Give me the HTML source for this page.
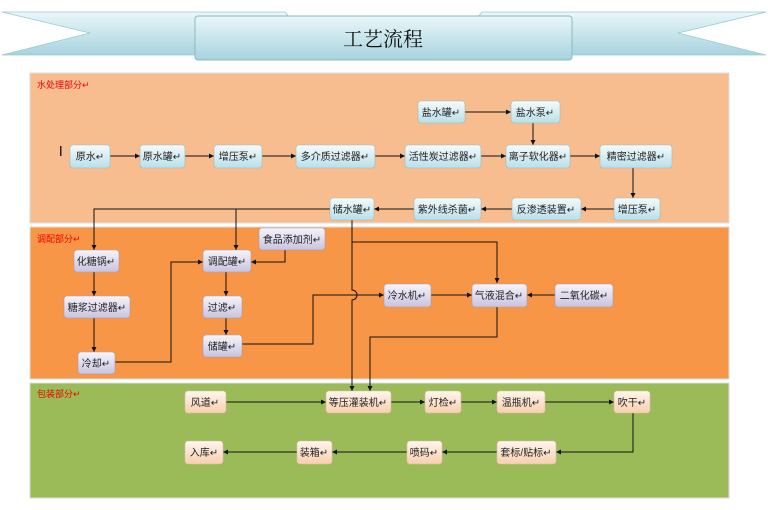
<!DOCTYPE html>
<html><head><meta charset="utf-8"><style>
body{margin:0;background:#fff;width:768px;height:505px;overflow:hidden}
text{font-family:"Liberation Sans","Noto Sans CJK SC",sans-serif;font-size:10px;fill:#222}
</style></head><body>
<svg width="768" height="505" viewBox="0 0 768 505" xmlns="http://www.w3.org/2000/svg">
<defs>
<linearGradient id="gc" x1="0" y1="0" x2="0" y2="1"><stop offset="0" stop-color="#f4fbfd"/><stop offset="1" stop-color="#b9dfe8"/></linearGradient>
<linearGradient id="gt" x1="0" y1="0" x2="0" y2="1"><stop offset="0" stop-color="#eaf7fa"/><stop offset="1" stop-color="#a7d3de"/></linearGradient>
<linearGradient id="gl" x1="0" y1="0" x2="0" y2="1"><stop offset="0" stop-color="#f6f4fb"/><stop offset="1" stop-color="#c9c3e0"/></linearGradient>
<linearGradient id="gp" x1="0" y1="0" x2="0" y2="1"><stop offset="0" stop-color="#fff6ee"/><stop offset="1" stop-color="#f7cfae"/></linearGradient>
<marker id="a" markerWidth="6" markerHeight="6" refX="5" refY="3" orient="auto" markerUnits="userSpaceOnUse"><path d="M0,0.5 L5,3 L0,5.5z" fill="#111"/></marker>
</defs>
<!-- banner -->
<path d="M2,12 L285,12 L290,18 L195,22 L195,55 L2,55 L90,33 Z" fill="url(#gt)" stroke="#9cc" stroke-width="0.8"/>
<path d="M766,12 L482,12 L477,18 L572,22 L572,55 L766,55 L678,33 Z" fill="url(#gt)" stroke="#9cc" stroke-width="0.8"/>
<rect x="195" y="16" width="377" height="44" rx="3" fill="url(#gt)" stroke="#8bb" stroke-width="1"/>
<text x="383" y="46" text-anchor="middle" style="font-size:20px;font-family:'Noto Serif CJK SC',serif;fill:#111">工艺流程</text>
<!-- panels -->
<rect x="30" y="73" width="699" height="150" fill="#f8bd8f" stroke="#ddd"/>
<rect x="30" y="227" width="699" height="152" fill="#f79646" stroke="#ddd"/>
<rect x="30" y="383" width="699" height="115" fill="#9bbb59" stroke="#ddd"/>
<text x="37" y="88" style="fill:#e00;font-size:9px">水处理部分↵</text>
<text x="37" y="242" style="fill:#e00;font-size:9px">调配部分↵</text>
<text x="37" y="397" style="fill:#e00;font-size:9px">包装部分↵</text>
<rect x="60" y="146" width="1.5" height="10" fill="#222"/>
<g stroke="#111" stroke-width="1" fill="none">
<!-- top -->
<path d="M465,112H511" marker-end="url(#a)"/>
<path d="M533,123V145" marker-end="url(#a)"/>
<path d="M110,156H140" marker-end="url(#a)"/>
<path d="M185,156H214" marker-end="url(#a)"/>
<path d="M262,156H296" marker-end="url(#a)"/>
<path d="M375,156H405" marker-end="url(#a)"/>
<path d="M481,156H506" marker-end="url(#a)"/>
<path d="M570,156H600" marker-end="url(#a)"/>
<path d="M633,168V198" marker-end="url(#a)"/>
<path d="M614,209H581" marker-end="url(#a)"/>
<path d="M512,209H481" marker-end="url(#a)"/>
<path d="M414,209H374" marker-end="url(#a)"/>
<!-- mid -->
<path d="M330,209H94V250" marker-end="url(#a)"/>
<path d="M236,209V250" marker-end="url(#a)"/>
<path d="M352,220V290 A5,5 0 0 1 352,300 V391" marker-end="url(#a)"/>
<path d="M352,242H497V283" marker-end="url(#a)"/>
<path d="M285,250V262H251" marker-end="url(#a)"/>
<path d="M94,272V296" marker-end="url(#a)"/>
<path d="M94,318V352" marker-end="url(#a)"/>
<path d="M115,362H171V262H203" marker-end="url(#a)"/>
<path d="M226,272V296" marker-end="url(#a)"/>
<path d="M226,318V335" marker-end="url(#a)"/>
<path d="M242,344H313V295H384" marker-end="url(#a)"/>
<path d="M431,295H472" marker-end="url(#a)"/>
<path d="M555,295H527" marker-end="url(#a)"/>
<path d="M497,307V337H370V391" marker-end="url(#a)"/>
<!-- bottom -->
<path d="M226,402H326" marker-end="url(#a)"/>
<path d="M391,402H425" marker-end="url(#a)"/>
<path d="M461,402H497" marker-end="url(#a)"/>
<path d="M545,402H614" marker-end="url(#a)"/>
<path d="M633,413V452H556" marker-end="url(#a)"/>
<path d="M497,452H442" marker-end="url(#a)"/>
<path d="M407,452H332" marker-end="url(#a)"/>
<path d="M297,452H223" marker-end="url(#a)"/>
</g>
<g stroke="#9bb" stroke-width="0.6">
<rect x="418" y="101" width="47" height="22" rx="3" fill="url(#gc)"/>
<rect x="511" y="101" width="49" height="22" rx="3" fill="url(#gc)"/>
<rect x="70" y="145" width="40" height="23" rx="3" fill="url(#gc)"/>
<rect x="140" y="145" width="45" height="23" rx="3" fill="url(#gc)"/>
<rect x="214" y="145" width="48" height="23" rx="3" fill="url(#gc)"/>
<rect x="296" y="145" width="79" height="23" rx="3" fill="url(#gc)"/>
<rect x="405" y="145" width="76" height="23" rx="3" fill="url(#gc)"/>
<rect x="506" y="145" width="64" height="23" rx="3" fill="url(#gc)"/>
<rect x="600" y="145" width="72" height="23" rx="3" fill="url(#gc)"/>
<rect x="330" y="198" width="44" height="22" rx="3" fill="url(#gc)"/>
<rect x="414" y="198" width="67" height="22" rx="3" fill="url(#gc)"/>
<rect x="512" y="198" width="69" height="22" rx="3" fill="url(#gc)"/>
<rect x="614" y="198" width="46" height="22" rx="3" fill="url(#gc)"/>
</g>
<g stroke="#a9a" stroke-width="0.6" fill="url(#gl)">
<rect x="74" y="250" width="45" height="22" rx="3"/>
<rect x="259" y="228" width="66" height="22" rx="3"/>
<rect x="203" y="250" width="48" height="22" rx="3"/>
<rect x="64" y="296" width="66" height="22" rx="3"/>
<rect x="203" y="296" width="39" height="22" rx="3"/>
<rect x="78" y="352" width="37" height="22" rx="3"/>
<rect x="203" y="335" width="39" height="22" rx="3"/>
<rect x="384" y="284" width="47" height="23" rx="3"/>
<rect x="472" y="284" width="55" height="23" rx="3"/>
<rect x="555" y="284" width="58" height="23" rx="3"/>
</g>
<g stroke="#dba" stroke-width="0.6" fill="url(#gp)">
<rect x="185" y="391" width="41" height="22" rx="3"/>
<rect x="326" y="391" width="65" height="22" rx="3"/>
<rect x="425" y="391" width="36" height="22" rx="3"/>
<rect x="497" y="391" width="48" height="22" rx="3"/>
<rect x="614" y="391" width="36" height="22" rx="3"/>
<rect x="185" y="441" width="38" height="23" rx="3"/>
<rect x="297" y="441" width="35" height="23" rx="3"/>
<rect x="407" y="441" width="35" height="23" rx="3"/>
<rect x="497" y="441" width="59" height="23" rx="3"/>
</g>
<g text-anchor="middle">
<text x="441" y="116">盐水罐↵</text><text x="535" y="116">盐水泵↵</text>
<text x="90" y="160">原水↵</text><text x="162" y="160">原水罐↵</text><text x="238" y="160">增压泵↵</text>
<text x="335" y="160">多介质过滤器↵</text><text x="443" y="160">活性炭过滤器↵</text><text x="538" y="160">离子软化器↵</text><text x="636" y="160">精密过滤器↵</text>
<text x="352" y="213">储水罐↵</text><text x="447" y="213">紫外线杀菌↵</text><text x="546" y="213">反渗透装置↵</text><text x="637" y="213">增压泵↵</text>
<text x="96" y="265">化糖锅↵</text><text x="292" y="243">食品添加剂↵</text><text x="227" y="265">调配罐↵</text>
<text x="97" y="311">糖浆过滤器↵</text><text x="222" y="311">过滤↵</text><text x="96" y="367">冷却↵</text><text x="222" y="350">储罐↵</text>
<text x="407" y="299">冷水机↵</text><text x="499" y="299">气液混合↵</text><text x="584" y="299">二氧化碳↵</text>
<text x="205" y="406">风道↵</text><text x="358" y="406">等压灌装机↵</text><text x="443" y="406">灯检↵</text><text x="521" y="406">温瓶机↵</text><text x="632" y="406">吹干↵</text>
<text x="204" y="456">入库↵</text><text x="314" y="456">装箱↵</text><text x="424" y="456">喷码↵</text><text x="526" y="456">套标/贴标↵</text>
</g>
</svg>
</body></html>
